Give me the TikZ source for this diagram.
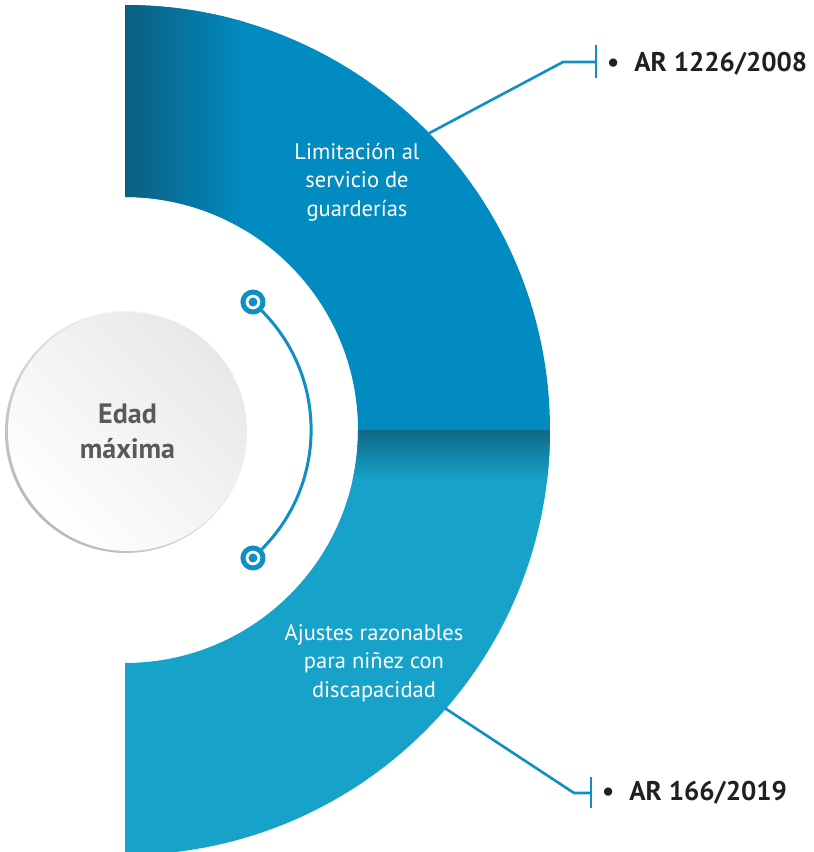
\documentclass[tikz,border=0pt]{standalone}
\usepackage{fontspec}
\setmainfont{PT Sans}
\usetikzlibrary{positioning}
\definecolor{bandtop}{HTML}{028BC1}
\definecolor{bandtopdark}{HTML}{0B5E80}
\definecolor{bandbot}{HTML}{17A2CA}
\definecolor{bandbotdark}{HTML}{0F6986}
\definecolor{linkblue}{HTML}{0F90C4}
\definecolor{labelgray}{HTML}{58595B}
\definecolor{labelblack}{HTML}{231F20}
\begin{document}
\begin{tikzpicture}[x=1pt, y=1pt,
    bandtext/.style={text=white, align=center, font=\fontsize{22.5}{28.5}\selectfont},
    lawtext/.style={text=labelblack, anchor=base west, inner sep=0pt, font=\fontsize{27}{32}\selectfont\bfseries},
    marker/.style={circle, draw=linkblue, line width=5pt, minimum size=20pt, inner sep=0pt, fill=white},
    leader/.style={linkblue, line width=2.6pt}]
  \useasboundingbox (0,0) rectangle (814,852);
  \fill[white] (0,0) rectangle (814,852);
  \coordinate (C) at (125,422);

  % Upper band
  \begin{scope}
    \clip (125,847) arc[start angle=90, end angle=0, radius=425] -- (358,422)
      arc[start angle=0, end angle=90, radius=233] -- cycle;
    \fill[bandtop] (125,422) rectangle (550,847);
    \shade[left color=bandtopdark, right color=bandtop] (125,422) rectangle (245,847);
  \end{scope}

  % Lower band
  \begin{scope}
    \clip (550,422) arc[start angle=0, end angle=-90, radius=425] -- (125,189)
      arc[start angle=-90, end angle=0, radius=233] -- cycle;
    \fill[bandbot] (125,-3) rectangle (550,422);
    \shade[top color=bandbotdark, bottom color=bandbot] (125,372) rectangle (550,422);
  \end{scope}

  % Centre disc
  \shade[top color=white, bottom color=gray!55, shading angle=-45] (126,420) circle[radius=121];
  \node[circle, minimum size=239pt, inner sep=0pt, top color=gray!18, bottom color=white,
    shading angle=-45, text=labelgray, align=center,
    font=\fontsize{28}{35}\selectfont\bfseries] (edad) at (127.5,420.5) {Edad\\máxima};

  % Markers and arc
  \node[marker] (m1) at ([shift={(45:181)}]C) {};
  \node[marker] (m2) at ([shift={(-45:181)}]C) {};
  \foreach \m in {m1,m2} {
    \fill[linkblue] (\m) circle[radius=4.5];
  }
  \draw[linkblue, line width=3pt] (m1) to[bend left=45] (m2);

  % Band labels
  \node[bandtext] (limit) at (357,670) {Limitación al\\servicio de\\guarderías};
  \node[bandtext] (ajust) at (374,189) {Ajustes razonables\\para niñez con\\discapacidad};

  % Leaders
  \coordinate (topedge) at ([shift={(44.3:425)}]C);
  \coordinate (topknee) at (563,790);
  \coordinate (toptick) at (596,790);
  \draw[leader] (topedge) -- (topknee) -- (toptick);
  \draw[leader] ([yshift=17]toptick) -- ([yshift=-16]toptick);
  \node[lawtext] (ar1) at (607,780) {\textbullet\hspace{15pt}AR 1226/2008};

  \coordinate (botedge) at ([shift={(-41:424)}]C);
  \coordinate (botknee) at (574,59);
  \coordinate (bottick) at (591,59);
  \draw[leader] (botedge) -- (botknee) -- (bottick);
  \draw[leader] ([yshift=16]bottick) -- ([yshift=-15]bottick);
  \node[lawtext] (ar2) at (602,51) {\textbullet\hspace{15pt}AR 166/2019};
\end{tikzpicture}
\end{document}
